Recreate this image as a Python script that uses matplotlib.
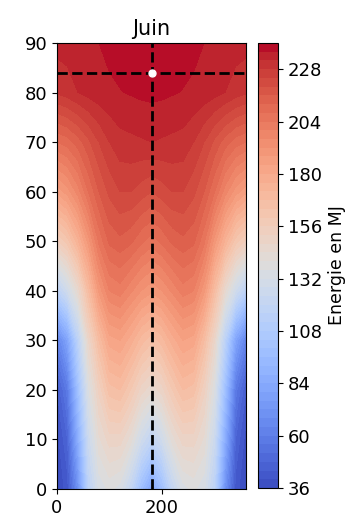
import numpy as np
import matplotlib
matplotlib.use("Agg")
import matplotlib.pyplot as plt

# Azimuth (x) and tilt (y) grid, energy values in MJ
azimuth = [0, 20, 40, 60, 80, 100, 120, 140, 160, 180, 200, 220, 240, 260, 280, 300, 320, 340, 360]
tilt = [0, 10, 20, 30, 40, 50, 60, 70, 80, 90]

e_00 = [36, 42, 70, 115, 133, 137, 134, 120, 98, 80, 98, 120, 134, 137, 133, 115, 70, 42, 36]
e_10 = [38, 48, 85, 125, 143, 150, 150, 142, 128, 118, 128, 142, 150, 150, 143, 125, 85, 48, 38]
e_20 = [44, 58, 98, 135, 153, 166, 168, 160, 150, 145, 150, 160, 168, 166, 153, 135, 98, 58, 44]
e_30 = [62, 80, 115, 148, 168, 182, 184, 178, 170, 165, 170, 178, 184, 182, 168, 148, 115, 80, 62]
e_40 = [115, 128, 145, 168, 189, 200, 202, 197, 192, 189, 192, 197, 202, 200, 189, 168, 145, 128, 115]
e_50 = [155, 162, 175, 190, 205, 213, 215, 213, 209, 206, 209, 213, 215, 213, 205, 190, 175, 162, 155]
e_60 = [185, 190, 198, 208, 216, 221, 224, 224, 222, 220, 222, 224, 224, 221, 216, 208, 198, 190, 185]
e_70 = [208, 210, 214, 219, 224, 228, 230.5, 231, 231.5, 232, 231.5, 231, 230.5, 228, 224, 219, 214, 210, 208]
e_80 = [228.5, 230, 232, 233.5, 234.5, 235.3, 235.8, 236.3, 236.8, 237, 236.8, 236.3, 235.8, 235.3, 234.5, 233.5, 232, 230, 228.5]
e_90 = [233.5, 233.8, 234.3, 235, 236, 237, 238, 239, 239.6, 240, 239.6, 239, 238, 237, 236, 235, 234.3, 233.8, 233.5]

best_azimuth = 180
best_tilt = 84

levels = list(range(36, 244, 4))
cbar_ticks = [36, 60, 84, 108, 132, 156, 180, 204, 228]
x_ticks = [0, 200]
y_ticks = [0, 10, 20, 30, 40, 50, 60, 70, 80, 90]

Z = np.array([e_00, e_10, e_20, e_30, e_40, e_50, e_60, e_70, e_80, e_90])

plt.rcParams['font.size'] = 13
fig = plt.figure(figsize=(3.56, 5.20), dpi=100)
ax = fig.add_axes([57/356, 31/520, 189/356, 446/520])
cax = fig.add_axes([258/356, 32/520, 20/356, 445/520])

cs = ax.contourf(azimuth, tilt, Z, levels=levels, cmap='coolwarm')
ax.axvline(best_azimuth, color='black', linestyle='--', linewidth=2)
ax.axhline(best_tilt, color='black', linestyle='--', linewidth=2)
ax.plot([best_azimuth], [best_tilt], 'o', color='white', markersize=5)
ax.set_xlim(0, 360)
ax.set_ylim(0, 90)
ax.set_xticks(x_ticks)
ax.set_yticks(y_ticks)
ax.set_title('Juin', fontsize=15)

cb = fig.colorbar(cs, cax=cax, ticks=cbar_ticks)
cb.set_label('Energie en MJ', fontsize=12.5)

fig.savefig('out.png', dpi=100)
